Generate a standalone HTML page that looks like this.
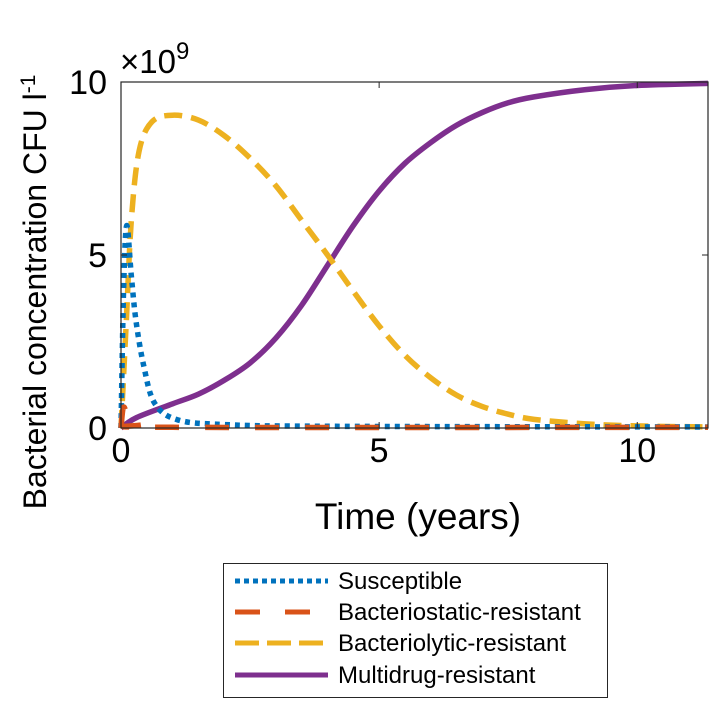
<!DOCTYPE html>
<html><head><meta charset="utf-8"><style>
html,body{margin:0;padding:0;background:#fff;}
svg{display:block;font-family:"Liberation Sans",Arial,sans-serif;}
</style></head><body>
<svg id="chart" width="711" height="703">
<rect x="121" y="82" width="587" height="346" fill="#fff"/>
<g id="series"></g>
<g id="axes"></g>
<text x="46" y="292" font-size="32" text-anchor="middle" transform="rotate(-90 46 292)">Bacterial concentration CFU l<tspan dy="-11" font-size="21">-1</tspan></text>
<text x="418" y="529" font-size="37" text-anchor="middle">Time (years)</text>
<text x="120" y="73" font-size="33">×10<tspan dy="-14" font-size="24">9</tspan></text>
<g>
<rect x="223.5" y="563.5" width="384" height="134" fill="#fff" stroke="#262626" stroke-width="1"/>
<line x1="235" y1="581" x2="328" y2="581" stroke="#0072BD" stroke-width="5" stroke-dasharray="5 4"/>
<text x="338" y="589" font-size="24">Susceptible</text>
<line x1="235" y1="612" x2="310" y2="612" stroke="#D95319" stroke-width="5" stroke-dasharray="25 25"/>
<text x="338" y="620" font-size="24">Bacteriostatic-resistant</text>
<line x1="235" y1="643" x2="328" y2="643" stroke="#EDB120" stroke-width="5" stroke-dasharray="24 8"/>
<text x="338" y="651" font-size="24">Bacteriolytic-resistant</text>
<line x1="235" y1="675" x2="328" y2="675" stroke="#7E2F8E" stroke-width="5"/>
<text x="338" y="683" font-size="24">Multidrug-resistant</text>
</g>
</svg>
<script>
const xTicks=[0,5,10];
const yTicks=[0,5,10];
const susT=[0,0.05,0.11,0.2,0.29,0.44,0.65,1.09,2,4,11.4];
const susV=[0,4,5.85,4.4,3.1,1.8,0.72,0.24,0.1,0.05,0.03];
const staT=[0,0.05,0.15,0.4,1,11.4];
const staV=[0,0.6,0.3,0.1,0.02,0.02];
const lytT=[0,0.1,0.2,0.35,0.6,1,1.5,2,2.5,3,3.5,4,4.5,5,5.5,6,6.5,7,7.5,8,9,10,11.4];
const lytV=[0,3,6,8,8.85,9.04,8.9,8.45,7.8,7.0,6.0,5.0,3.95,2.95,2.1,1.45,0.95,0.62,0.4,0.25,0.12,0.06,0.03];
const mulT=[0,0.3,1,1.5,2,2.5,3,3.5,4,4.5,5,5.5,6,6.5,7,7.5,8,9,10,11.4];
const mulV=[0,0.3,0.7,0.98,1.38,1.88,2.6,3.55,4.7,5.85,6.85,7.65,8.25,8.75,9.12,9.4,9.57,9.78,9.9,9.96];
const X0=121,X1=708,XMAX=11.37,Y0=428,Y1=82,YMAX=10;
const xs=t=>X0+(X1-X0)*Math.min(t,XMAX)/XMAX;
const ys=v=>Y0-(Y0-Y1)*v/YMAX;
const NS='http://www.w3.org/2000/svg';
function mk(tag,attrs,parent){const e=document.createElementNS(NS,tag);for(const k in attrs)e.setAttribute(k,attrs[k]);parent.appendChild(e);return e;}
function pathD(T,V){let pts=T.map((t,i)=>[xs(t),ys(V[i])]);let d='M'+pts[0][0]+','+pts[0][1];
for(let i=0;i<pts.length-1;i++){const p0=pts[i-1]||pts[i],p1=pts[i],p2=pts[i+1],p3=pts[i+2]||p2;
d+=' C'+(p1[0]+(p2[0]-p0[0])/6)+','+(p1[1]+(p2[1]-p0[1])/6)+' '+(p2[0]-(p3[0]-p1[0])/6)+','+(p2[1]-(p3[1]-p1[1])/6)+' '+p2[0]+','+p2[1];}return d;}
const sg=document.getElementById('series');
const defs=[[mulT,mulV,'#7E2F8E','','series-multidrug'],[lytT,lytV,'#EDB120','18 9','series-bacteriolytic'],[susT,susV,'#0072BD','5 5','series-susceptible'],[staT,staV,'#D95319','24 26','series-bacteriostatic']];
defs.forEach(d=>{const p=mk('path',{d:pathD(d[0],d[1]),fill:'none',stroke:d[2],'stroke-width':5.5,'stroke-dasharray':d[3]},sg);

});
const ax=document.getElementById('axes');
mk('rect',{x:X0,y:Y1,width:X1-X0,height:Y0-Y1,fill:'none',stroke:'#262626','stroke-width':1.2},ax);
xTicks.forEach(t=>{mk('line',{x1:xs(t),x2:xs(t),y1:Y0,y2:Y0-6,stroke:'#262626'},ax);mk('line',{x1:xs(t),x2:xs(t),y1:Y1,y2:Y1+6,stroke:'#262626'},ax);
const tx=mk('text',{x:xs(t),y:Y0+34,'font-size':34,'text-anchor':'middle'},ax);tx.textContent=t;

});
yTicks.forEach(v=>{mk('line',{x1:X0,x2:X0+6,y1:ys(v),y2:ys(v),stroke:'#262626'},ax);mk('line',{x1:X1,x2:X1-6,y1:ys(v),y2:ys(v),stroke:'#262626'},ax);
const tx=mk('text',{x:X0-14,y:ys(v)+12,'font-size':34,'text-anchor':'end'},ax);tx.textContent=v;

});
</script>
</body></html>
